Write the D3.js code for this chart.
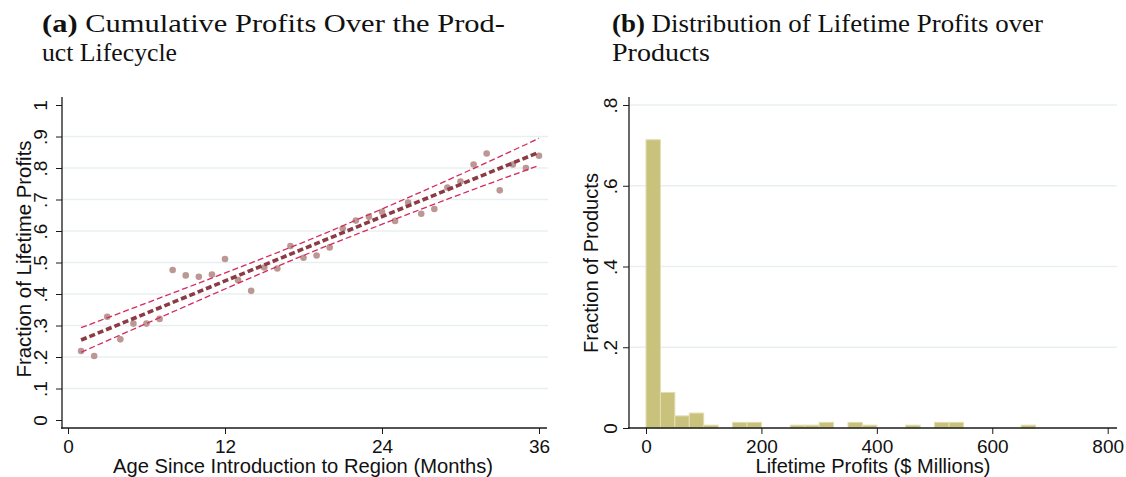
<!DOCTYPE html>
<html>
<head>
<meta charset="utf-8">
<script src="https://cdn.jsdelivr.net/npm/d3@7"></script>
<style>
  html, body { margin: 0; padding: 0; background: #fff; }
  svg { display: block; }
</style>
</head>
<body>
<svg id="chart" width="1126" height="477"></svg>
<script>
// ---------------- DATA ----------------
// Panel (a): cumulative share of lifetime profits by month since introduction
const months = [1,2,3,4,5,6,7,8,9,10,11,12,13,14,15,16,17,18,19,20,21,22,23,24,25,26,27,28,29,30,31,32,33,34,35,36];
const cumShare = [0.219,0.203,0.328,0.256,0.306,0.306,0.321,0.476,0.459,0.455,0.462,0.511,0.444,0.410,0.484,0.481,0.552,0.515,0.522,0.548,0.608,0.633,0.645,0.661,0.632,0.690,0.655,0.670,0.738,0.757,0.811,0.846,0.729,0.811,0.800,0.839];
// Linear fit and its confidence band
const fitMonths = [1, 36];
const fitValues = [0.254, 0.850];
const ciMonths = [1, 8, 14, 18.5, 23, 29, 36];
const ciUpper = [0.293, 0.403, 0.499, 0.573, 0.652, 0.761, 0.894];
const ciLower = [0.215, 0.343, 0.452, 0.531, 0.605, 0.701, 0.808];
const xTicksA = [0, 12, 24, 36];
const yTicksA = [0, 0.1, 0.2, 0.3, 0.4, 0.5, 0.6, 0.7, 0.8, 0.9, 1];
const yGridA = [0.1, 0.2, 0.3, 0.4, 0.5, 0.6, 0.7, 0.8, 0.9];

// Panel (b): histogram of lifetime profits ($ millions), bins of width 25
const binStarts = [0,25,50,75,100,125,150,175,200,225,250,275,300,325,350,375,400,425,450,475,500,525,550,575,600,625,650];
const binFractions = [0.714,0.088,0.030,0.037,0.007,0,0.014,0.014,0,0,0.007,0.007,0.014,0,0.014,0.007,0,0,0.007,0,0.014,0.014,0,0,0,0,0.007];
const binWidth = 25;
const xTicksB = [0, 200, 400, 600, 800];
const yTicksB = [0, 0.2, 0.4, 0.6, 0.8];
const yGridB = [0.2, 0.4, 0.6, 0.8];

// Text
const titleA = ["(a)", " Cumulative Profits Over the Prod-", "uct Lifecycle"];
const titleB = ["(b)", " Distribution of Lifetime Profits over", "Products"];
const xLabelA = "Age Since Introduction to Region (Months)";
const yLabelA = "Fraction of Lifetime Profits";
const xLabelB = "Lifetime Profits ($ Millions)";
const yLabelB = "Fraction of Products";

// ---------------- DRAW ----------------
const svg = d3.select("#chart");
const sans = "'Liberation Sans', Arial, Helvetica, sans-serif";
const serif = "'Liberation Serif', 'Times New Roman', serif";
const gridColor = "#e8eff1";
const axisColor = "#1a1a1a";
const tickFont = 19;
const labelFont = 19.5;

const fmt = d => (d === 0 ? "0" : d === 1 ? "1" : d3.format(".1f")(d).replace(/^0/, ""));

// Titles
function drawTitle(lines, x, w1, w2) {
  const t1 = svg.append("text").attr("x", x).attr("y", 32)
    .attr("font-family", serif).attr("font-size", 26).attr("fill", "#111")
    .attr("textLength", w1).attr("lengthAdjust", "spacingAndGlyphs");
  t1.append("tspan").attr("font-weight", "bold").text(lines[0]);
  t1.append("tspan").text(lines[1]);
  svg.append("text").attr("x", x).attr("y", 61)
    .attr("font-family", serif).attr("font-size", 26).attr("fill", "#111")
    .attr("textLength", w2).attr("lengthAdjust", "spacingAndGlyphs")
    .text(lines[2]);
}
drawTitle(titleA, 42, 463, 135);
drawTitle(titleB, 612, 431, 98);

// ---------- Panel A ----------
const xA = d3.scaleLinear().domain([0, 36]).range([68, 539]);
const yA = d3.scaleLinear().domain([0, 1]).range([420, 105]);
const gA = svg.append("g");

// gridlines
gA.selectAll("line.grid").data(yGridA).enter().append("line")
  .attr("x1", 62).attr("x2", 548)
  .attr("y1", d => yA(d)).attr("y2", d => yA(d))
  .attr("stroke", gridColor).attr("stroke-width", 1.5);

// axes
const axA_x = gA.append("g").attr("transform", "translate(0,428)")
  .call(d3.axisBottom(xA).tickValues(xTicksA).tickSize(6).tickPadding(3));
axA_x.select(".domain").remove();
axA_x.selectAll("line").attr("stroke", axisColor);
axA_x.selectAll("text").attr("font-family", sans).attr("font-size", tickFont).attr("fill", "#111")
  .attr("dy", null).attr("y", 25);
gA.append("line").attr("x1", 61).attr("x2", 547).attr("y1", 428).attr("y2", 428)
  .attr("stroke", axisColor).attr("stroke-width", 1.3);

const axA_y = gA.append("g").attr("transform", "translate(62,0)")
  .call(d3.axisLeft(yA).tickValues(yTicksA).tickSize(6).tickFormat(fmt));
axA_y.select(".domain").remove();
axA_y.selectAll("line").attr("stroke", axisColor);
axA_y.selectAll("text").attr("font-family", sans).attr("font-size", tickFont).attr("fill", "#111")
  .attr("x", null).attr("dy", null).attr("text-anchor", "middle")
  .attr("transform", "translate(-15,0) rotate(-90)");
gA.append("line").attr("x1", 62).attr("x2", 62).attr("y1", 97).attr("y2", 428.6)
  .attr("stroke", axisColor).attr("stroke-width", 1.3);

// points
gA.selectAll("circle.pt").data(months).enter().append("circle")
  .attr("cx", (d) => xA(d)).attr("cy", (d, i) => yA(cumShare[i]))
  .attr("r", 3.3).attr("fill", "#bb9893");

// CI lines
const ciLine = d3.line().x(d => xA(d[0])).y(d => yA(d[1])).curve(d3.curveMonotoneX);
[ciUpper, ciLower].forEach(arr => {
  gA.append("path").datum(ciMonths.map((m, i) => [m, arr[i]]))
    .attr("d", ciLine).attr("fill", "none")
    .attr("stroke", "#d42a5b").attr("stroke-width", 1.3)
    .attr("stroke-dasharray", "6,3");
});
// fit line
gA.append("path").datum(fitMonths.map((m, i) => [m, fitValues[i]]))
  .attr("d", d3.line().x(d => xA(d[0])).y(d => yA(d[1])))
  .attr("fill", "none").attr("stroke", "#8c3a44").attr("stroke-width", 3.6)
  .attr("stroke-dasharray", "6,3");

// labels
svg.append("text").attr("x", 303).attr("y", 473).attr("text-anchor", "middle")
  .attr("font-family", sans).attr("font-size", labelFont).attr("fill", "#111")
  .attr("textLength", 380).attr("lengthAdjust", "spacingAndGlyphs").text(xLabelA);
svg.append("text").attr("transform", "translate(31,259) rotate(-90)").attr("text-anchor", "middle")
  .attr("font-family", sans).attr("font-size", labelFont).attr("fill", "#111")
  .attr("textLength", 237).attr("lengthAdjust", "spacingAndGlyphs").text(yLabelA);

// ---------- Panel B ----------
const xB = d3.scaleLinear().domain([0, 800]).range([646, 1107.7]);
const yB = d3.scaleLinear().domain([0, 0.8]).range([428, 105]);
const gB = svg.append("g");

gB.selectAll("line.grid").data(yGridB).enter().append("line")
  .attr("x1", 629).attr("x2", 1117)
  .attr("y1", d => yB(d)).attr("y2", d => yB(d))
  .attr("stroke", gridColor).attr("stroke-width", 1.5);

// bars
gB.selectAll("rect.bar").data(binStarts.map((s, i) => ({ s, v: binFractions[i] })).filter(d => d.v > 0))
  .enter().append("rect")
  .attr("x", d => xB(d.s)).attr("width", d => xB(d.s + binWidth) - xB(d.s))
  .attr("y", d => yB(d.v)).attr("height", d => yB(0) - yB(d.v))
  .attr("fill", "#c9c27d").attr("stroke", "#e2ddb0").attr("stroke-width", 1);

const axB_x = gB.append("g").attr("transform", "translate(0,428)")
  .call(d3.axisBottom(xB).tickValues(xTicksB).tickSize(6).tickPadding(3));
axB_x.select(".domain").remove();
axB_x.selectAll("line").attr("stroke", axisColor);
axB_x.selectAll("text").attr("font-family", sans).attr("font-size", tickFont).attr("fill", "#111")
  .attr("dy", null).attr("y", 25);
gB.append("line").attr("x1", 628).attr("x2", 1117).attr("y1", 428).attr("y2", 428)
  .attr("stroke", axisColor).attr("stroke-width", 1.3);

const axB_y = gB.append("g").attr("transform", "translate(629,0)")
  .call(d3.axisLeft(yB).tickValues(yTicksB).tickSize(6).tickFormat(fmt));
axB_y.select(".domain").remove();
axB_y.selectAll("line").attr("stroke", axisColor);
axB_y.selectAll("text").attr("font-family", sans).attr("font-size", tickFont).attr("fill", "#111")
  .attr("x", null).attr("dy", null).attr("text-anchor", "middle")
  .attr("transform", "translate(-12,0) rotate(-90)");
gB.append("line").attr("x1", 629).attr("x2", 629).attr("y1", 97).attr("y2", 428.6)
  .attr("stroke", axisColor).attr("stroke-width", 1.3);

svg.append("text").attr("x", 873).attr("y", 473).attr("text-anchor", "middle")
  .attr("font-family", sans).attr("font-size", labelFont).attr("fill", "#111")
  .attr("textLength", 235).attr("lengthAdjust", "spacingAndGlyphs").text(xLabelB);
svg.append("text").attr("transform", "translate(598,263) rotate(-90)").attr("text-anchor", "middle")
  .attr("font-family", sans).attr("font-size", labelFont).attr("fill", "#111")
  .attr("textLength", 180).attr("lengthAdjust", "spacingAndGlyphs").text(yLabelB);
</script>
</body>
</html>
